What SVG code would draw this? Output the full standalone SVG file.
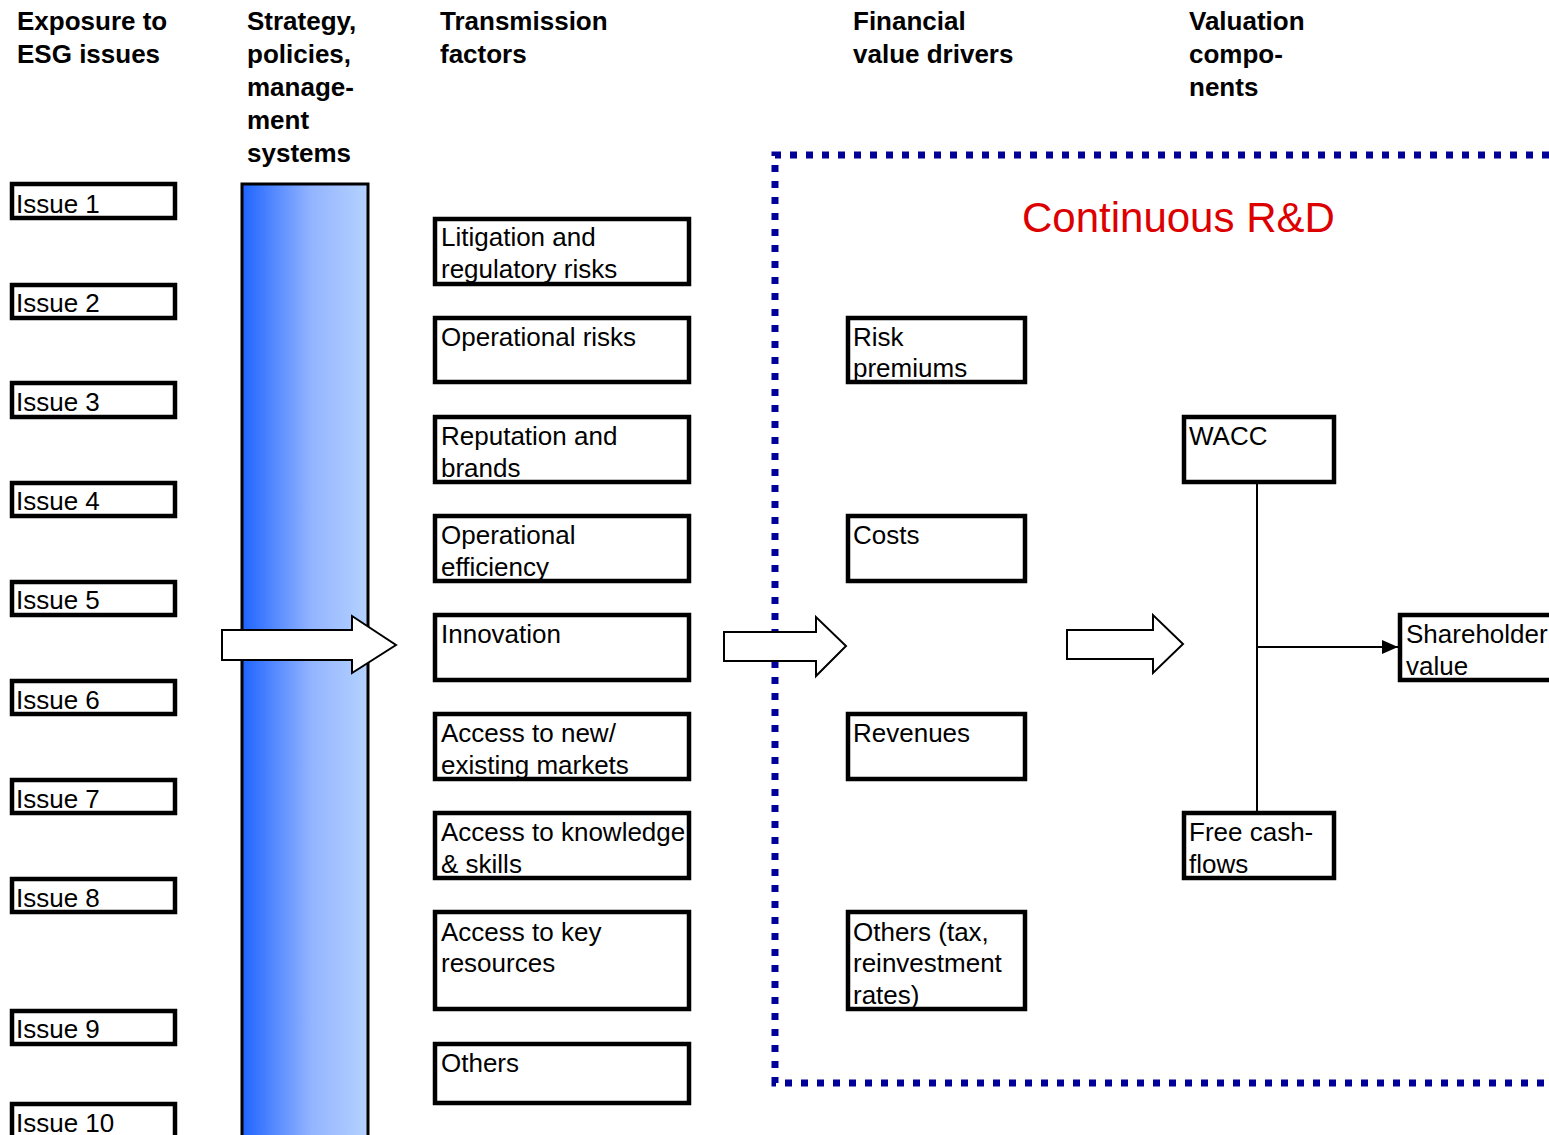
<svg xmlns="http://www.w3.org/2000/svg" width="1549" height="1135" viewBox="0 0 1549 1135">
<style>
.h{font-family:"Liberation Sans",Arial,sans-serif;font-size:26px;font-weight:bold;fill:#000}
.t{font-family:"Liberation Sans",Arial,sans-serif;font-size:26px;fill:#000}
.b{fill:#fff;stroke:#000;stroke-width:4.5}
.blk{fill:#fff;stroke:#000;stroke-width:2}
.dot{fill:none;stroke:#000099;stroke-width:7;stroke-dasharray:7 9}
</style>
<defs>
<linearGradient id="grad" x1="0" y1="0" x2="1" y2="0">
<stop offset="0" stop-color="#1E64FF"/>
<stop offset="0.55" stop-color="#93B4FF"/>
<stop offset="1" stop-color="#B4D2FF"/>
</linearGradient>
<marker id="arr" markerWidth="16" markerHeight="14" refX="16" refY="7" orient="auto" markerUnits="userSpaceOnUse" viewBox="0 0 16 14">
<path d="M0,0 L16,7 L0,14 z" fill="#000"/>
</marker>
</defs>
<rect width="1549" height="1135" fill="#fff"/>

<g id="headers">
<text class="h" x="17" y="30">Exposure to</text>
<text class="h" x="17" y="63">ESG issues</text>
<text class="h" x="247" y="30">Strategy,</text>
<text class="h" x="247" y="63">policies,</text>
<text class="h" x="247" y="96">manage-</text>
<text class="h" x="247" y="129">ment</text>
<text class="h" x="247" y="162">systems</text>
<text class="h" x="440" y="30">Transmission</text>
<text class="h" x="440" y="63">factors</text>
<text class="h" x="853" y="30">Financial</text>
<text class="h" x="853" y="63">value drivers</text>
<text class="h" x="1189" y="30">Valuation</text>
<text class="h" x="1189" y="63">compo-</text>
<text class="h" x="1189" y="96">nents</text>
</g>

<g id="rd-frame">
<path class="dot" d="M1549,155 L775,155 L775,1083 L1549,1083"/>
<text x="1022" y="232" font-family="Liberation Sans,Arial,sans-serif" font-size="42" fill="#DD0000">Continuous R&amp;D</text>
</g>

<g id="strategy-bar">
<rect x="242" y="184" width="126" height="960" fill="url(#grad)" stroke="#000" stroke-width="3"/>
</g>

<g id="issue1"><rect class="b" x="12" y="184" width="163" height="34"/><text class="t" x="16" y="213">Issue 1</text></g>
<g id="issue2"><rect class="b" x="12" y="285" width="163" height="33"/><text class="t" x="16" y="312">Issue 2</text></g>
<g id="issue3"><rect class="b" x="12" y="383" width="163" height="34"/><text class="t" x="16" y="411">Issue 3</text></g>
<g id="issue4"><rect class="b" x="12" y="483" width="163" height="33"/><text class="t" x="16" y="510">Issue 4</text></g>
<g id="issue5"><rect class="b" x="12" y="582" width="163" height="33"/><text class="t" x="16" y="609">Issue 5</text></g>
<g id="issue6"><rect class="b" x="12" y="681" width="163" height="33"/><text class="t" x="16" y="709">Issue 6</text></g>
<g id="issue7"><rect class="b" x="12" y="780" width="163" height="33"/><text class="t" x="16" y="808">Issue 7</text></g>
<g id="issue8"><rect class="b" x="12" y="879" width="163" height="33"/><text class="t" x="16" y="907">Issue 8</text></g>
<g id="issue9"><rect class="b" x="12" y="1011" width="163" height="33"/><text class="t" x="16" y="1038">Issue 9</text></g>
<g id="issue10"><rect class="b" x="12" y="1104" width="163" height="40"/><text class="t" x="16" y="1132">Issue 10</text></g>

<g id="tf1"><rect class="b" x="435" y="219" width="254" height="65"/><text class="t" x="441" y="246">Litigation and</text><text class="t" x="441" y="278">regulatory risks</text></g>
<g id="tf2"><rect class="b" x="435" y="318" width="254" height="64"/><text class="t" x="441" y="346">Operational risks</text></g>
<g id="tf3"><rect class="b" x="435" y="417" width="254" height="65"/><text class="t" x="441" y="445">Reputation and</text><text class="t" x="441" y="477">brands</text></g>
<g id="tf4"><rect class="b" x="435" y="516" width="254" height="65"/><text class="t" x="441" y="544">Operational</text><text class="t" x="441" y="576">efficiency</text></g>
<g id="tf5"><rect class="b" x="435" y="615" width="254" height="65"/><text class="t" x="441" y="643">Innovation</text></g>
<g id="tf6"><rect class="b" x="435" y="714" width="254" height="65"/><text class="t" x="441" y="742">Access to new/</text><text class="t" x="441" y="774">existing markets</text></g>
<g id="tf7"><rect class="b" x="435" y="813" width="254" height="65"/><text class="t" x="441" y="841">Access to knowledge</text><text class="t" x="441" y="873">&amp; skills</text></g>
<g id="tf8"><rect class="b" x="435" y="912" width="254" height="97"/><text class="t" x="441" y="941">Access to key</text><text class="t" x="441" y="972">resources</text></g>
<g id="tf9"><rect class="b" x="435" y="1044" width="254" height="59"/><text class="t" x="441" y="1072">Others</text></g>

<g id="fv1"><rect class="b" x="848" y="318" width="177" height="64"/><text class="t" x="853" y="346">Risk</text><text class="t" x="853" y="377">premiums</text></g>
<g id="fv2"><rect class="b" x="848" y="516" width="177" height="65"/><text class="t" x="853" y="544">Costs</text></g>
<g id="fv3"><rect class="b" x="848" y="714" width="177" height="65"/><text class="t" x="853" y="742">Revenues</text></g>
<g id="fv4"><rect class="b" x="848" y="912" width="177" height="97"/><text class="t" x="853" y="941">Others (tax,</text><text class="t" x="853" y="972">reinvestment</text><text class="t" x="853" y="1004">rates)</text></g>

<g id="wacc"><rect class="b" x="1184" y="417" width="150" height="65"/><text class="t" x="1189" y="445">WACC</text></g>
<g id="fcf"><rect class="b" x="1184" y="813" width="150" height="65"/><text class="t" x="1189" y="841">Free cash-</text><text class="t" x="1189" y="873">flows</text></g>
<g id="shv"><rect class="b" x="1400" y="615" width="160" height="65"/><text class="t" x="1406" y="643">Shareholder</text><text class="t" x="1406" y="675">value</text></g>

<g id="connectors">
<path class="blk" d="M222,630 L352,630 L352,616 L396,645 L352,673 L352,660 L222,660 Z"/>
<path class="blk" d="M724,632 L816,632 L816,617 L846,646 L816,676 L816,661 L724,661 Z"/>
<path class="blk" d="M1067,630 L1153,630 L1153,615 L1183,644 L1153,673 L1153,659 L1067,659 Z"/>
<line x1="1257" y1="484" x2="1257" y2="811" stroke="#000" stroke-width="2"/>
<line x1="1257" y1="647" x2="1398" y2="647" stroke="#000" stroke-width="2" marker-end="url(#arr)"/>
</g>
</svg>
